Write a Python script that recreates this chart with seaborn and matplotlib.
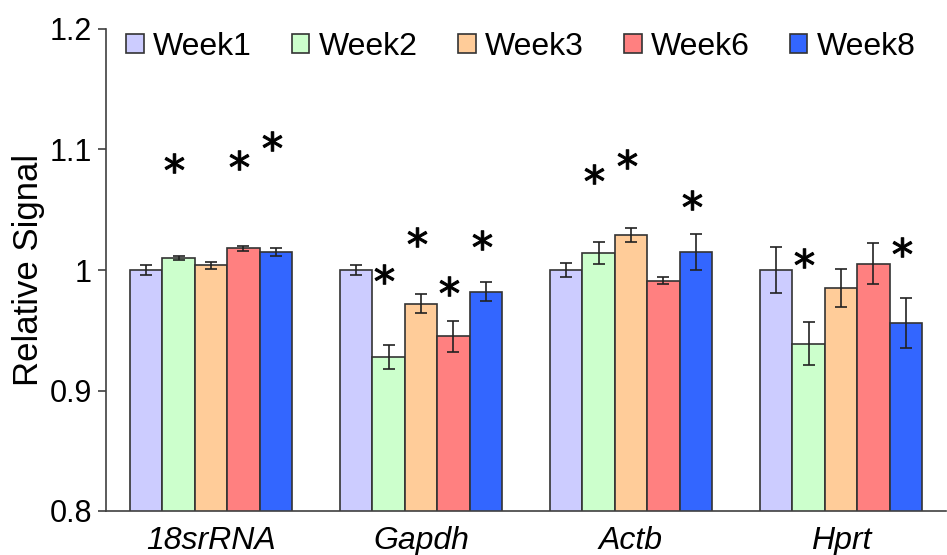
import matplotlib
matplotlib.use("Agg")
import matplotlib.pyplot as plt
from matplotlib.patches import Patch
from matplotlib.container import BarContainer
from matplotlib.transforms import offset_copy
import seaborn as sns
import pandas as pd

# ---- data ----
genes = ["18srRNA", "Gapdh", "Actb", "Hprt"]
weeks = ["Week1", "Week2", "Week3", "Week6", "Week8"]

week1 = [1.000, 1.000, 1.000, 1.000]
week2 = [1.010, 0.928, 1.014, 0.939]
week3 = [1.004, 0.972, 1.029, 0.985]
week6 = [1.018, 0.945, 0.991, 1.005]
week8 = [1.015, 0.982, 1.015, 0.956]

err1 = [0.004, 0.004, 0.006, 0.019]
err2 = [0.002, 0.010, 0.009, 0.018]
err3 = [0.003, 0.008, 0.006, 0.016]
err6 = [0.002, 0.013, 0.003, 0.017]
err8 = [0.003, 0.008, 0.015, 0.021]

star_genes = ["18srRNA", "18srRNA", "18srRNA", "Gapdh", "Gapdh", "Gapdh", "Gapdh",
              "Actb", "Actb", "Actb", "Hprt", "Hprt"]
star_weeks = ["Week2", "Week6", "Week8", "Week2", "Week3", "Week6", "Week8",
              "Week2", "Week3", "Week8", "Week2", "Week8"]
star_y = [1.089, 1.091, 1.107, 0.997, 1.027, 0.987, 1.025,
          1.080, 1.092, 1.058, 1.010, 1.019]

yticks = [0.8, 0.9, 1.0, 1.1, 1.2]
ytick_labels = ["0.8", "0.9", "1", "1.1", "1.2"]

colors = ["#CCCCFF", "#CCFFCC", "#FFCC99", "#FF8080", "#3366FF"]

values = [week1, week2, week3, week6, week8]
errors = [err1, err2, err3, err6, err8]

rows = []
for w, vals in zip(weeks, values):
    for g, v in zip(genes, vals):
        rows.append({"gene": g, "week": w, "value": v})
df = pd.DataFrame(rows)

# ---- style ----
sns.set_style("white")
plt.rcParams["font.family"] = ["Liberation Sans", "DejaVu Sans"]
plt.rcParams["text.color"] = "black"
plt.rcParams["axes.labelcolor"] = "black"
plt.rcParams["xtick.labelcolor"] = "black"
plt.rcParams["ytick.labelcolor"] = "black"
FS = 22

fig = plt.figure(figsize=(9.47, 5.55), dpi=100)
ax = fig.add_axes([106 / 947, 1 - 511 / 555, (946 - 106) / 947, (511 - 29) / 555])

sns.barplot(data=df, x="gene", y="value", hue="week", order=genes, hue_order=weeks,
            palette=colors, saturation=1, width=0.77, edgecolor="#333333",
            linewidth=1.2, errorbar=None, legend=False, ax=ax)

bar_containers = [c for c in ax.containers if isinstance(c, BarContainer)]
centers = []
for j, cont in enumerate(bar_containers):
    xs = [b.get_x() + b.get_width() / 2 for b in cont]
    centers.append(xs)
for j, xs in enumerate(centers):
    ax.errorbar(xs, values[j], yerr=errors[j], fmt="none", ecolor="#222222",
                elinewidth=1.2, capsize=4, capthick=1.2, zorder=5)

sx = [centers[weeks.index(w)][genes.index(g)] for g, w in zip(star_genes, star_weeks)]
star_trans = offset_copy(ax.transData, fig=fig, x=-3, y=0, units="points")
ax.plot(sx, star_y, linestyle="none", marker="$*$", markersize=14,
        color="black", markeredgewidth=0.8, zorder=6, transform=star_trans)

ax.set_ylim(0.8, 1.2)
ax.set_xlim(-0.5, 3.5)
ax.set_yticks(yticks)
ax.set_yticklabels(ytick_labels, fontsize=FS, color="black")
ax.set_xticks(range(len(genes)))
ax.set_xticklabels(genes, fontsize=23, style="italic", color="black")
ax.set_xticks([-0.5, 0.5, 1.5, 2.5, 3.5], minor=True)
ax.tick_params(axis="x", which="major", length=0, pad=11)
ax.tick_params(axis="x", which="minor", length=6, width=1.2, color="#404040", direction="out")
ax.tick_params(axis="y", length=6, width=1.2, color="#404040", direction="out", pad=4, left=True)
ax.set_xlabel("")
ax.set_ylabel("Relative Signal", fontsize=25, labelpad=3, color="black")

for s in ["top", "right"]:
    ax.spines[s].set_visible(False)
for s in ["left", "bottom"]:
    ax.spines[s].set_color("#404040")
    ax.spines[s].set_linewidth(1.2)

handles = [Patch(facecolor=c, edgecolor="#333333", linewidth=1.2) for c in colors]
leg = ax.legend(handles, weeks, loc="upper center", bbox_to_anchor=(0.494, 1.02), ncol=5,
                frameon=False, fontsize=23, handlelength=0.55, handleheight=0.55,
                handletextpad=0.3, columnspacing=1.25, borderaxespad=0)
for t in leg.get_texts():
    t.set_color("black")

fig.savefig("out.png", dpi=100)
